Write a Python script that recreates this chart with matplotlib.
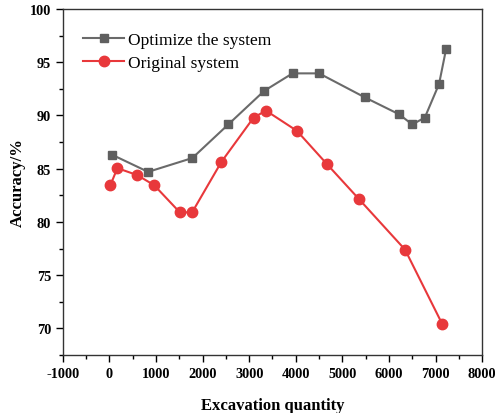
import numpy as np
import matplotlib.pyplot as plt
from matplotlib.ticker import MultipleLocator

plt.rcParams['font.family'] = ['Liberation Serif', 'DejaVu Serif']
plt.rcParams['axes.unicode_minus'] = False

# Dados
opt_x = [60, 830, 1780, 2550, 3320, 3930, 4500, 5480, 6220, 6500, 6770, 7075, 7225]
opt_y = [86.3, 84.7, 86.0, 89.15, 92.3, 93.95, 93.95, 91.7, 90.1, 89.15, 89.8, 92.95, 96.2]
orig_x = [20, 170, 595, 960, 1510, 1775, 2405, 3095, 3360, 4025, 4675, 5355, 6345, 7145]
orig_y = [83.45, 85.05, 84.4, 83.45, 80.9, 80.9, 85.65, 89.8, 90.45, 88.55, 85.4, 82.15, 77.4, 70.4]

fig = plt.figure(figsize=(4.95, 4.14), dpi=100)
ax = fig.add_axes([0.127, 0.14, 0.847, 0.836])

ax.plot(opt_x, opt_y, color='#6a6a6a', lw=1.5, marker='s', ms=6,
        mfc='#5f5f5f', mec='#5f5f5f', label='Optimize the system')
ax.plot(orig_x, orig_y, color='#e8383b', lw=1.5, marker='o', ms=7.5,
        mfc='#e8383b', mec='#e8383b', label='Original system')

ax.set_xlim(-1000, 8000)
ax.set_ylim(67.5, 100)
ax.xaxis.set_major_locator(MultipleLocator(1000))
ax.xaxis.set_minor_locator(MultipleLocator(500))
ax.yaxis.set_major_locator(MultipleLocator(5))
ax.yaxis.set_minor_locator(MultipleLocator(2.5))
ax.set_yticks(np.arange(70, 101, 5))
ax.tick_params(which='both', direction='out', top=False, right=False, labelsize=10.3)
ax.tick_params(which='major', length=5, width=1)
ax.tick_params(which='minor', length=3, width=1)
for lab in ax.get_xticklabels() + ax.get_yticklabels():
    lab.set_fontweight('bold')
for s in ax.spines.values():
    s.set_linewidth(1.0)
    s.set_color('#333333')

ax.set_xlabel('Excavation quantity', fontsize=12, fontweight='bold', labelpad=12)
ax.set_ylabel('Accuracy/%', fontsize=12, fontweight='bold', labelpad=3)

ax.legend(loc='upper left', frameon=False, fontsize=12.5, handlelength=2.4,
          handletextpad=0.2, labelspacing=0.4, bbox_to_anchor=(0.01, 0.98))

fig.savefig('out.png', dpi=100)
